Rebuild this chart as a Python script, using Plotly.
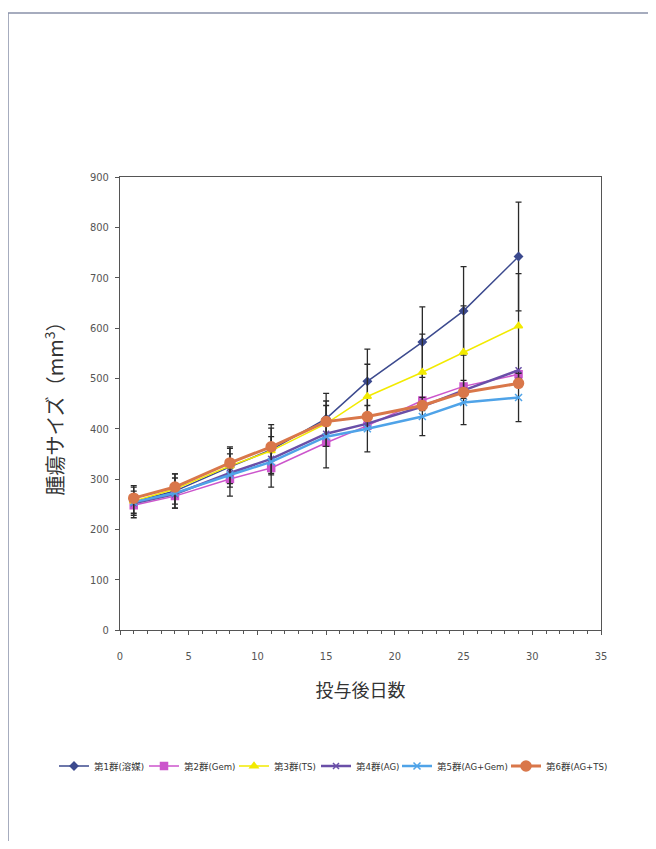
import plotly.graph_objects as go

days = [1, 4, 8, 11, 15, 18, 22, 25, 29]
names = ["第1群(溶媒)", "第2群(Gem)", "第3群(TS)", "第4群(AG)", "第5群(AG+Gem)", "第6群(AG+TS)"]
g1 = [255, 276, 324, 358, 420, 494, 572, 634, 742]
g2 = [248, 266, 300, 322, 372, 406, 456, 484, 508]
g3 = [256, 280, 326, 356, 410, 464, 512, 552, 604]
g4 = [252, 270, 312, 340, 390, 410, 444, 476, 516]
g5 = [254, 272, 308, 334, 384, 400, 424, 452, 462]
g6 = [262, 284, 332, 364, 414, 424, 446, 472, 490]
e1 = [32, 34, 40, 50, 50, 64, 70, 88, 108]
e3 = [28, 30, 35, 45, 45, 64, 76, 92, 104]
e5 = [22, 30, 42, 50, 62, 46, 38, 44, 48]

series = [g1, g2, g3, g4, g5, g6]
errors = [e1, None, e3, None, e5, None]
colors = ["#3C4A8E", "#CC55CC", "#F2EA00", "#6A4FA8", "#4FA3E8", "#D9774A"]
symbols = ["diamond", "square", "triangle-up", "x-thin", "x-thin", "circle"]
msizes = [6, 7, 7, 6, 7, 10]
lwidths = [1.5, 1.5, 1.5, 2.5, 2.5, 3]

# figure sits inside the page body at an 8px offset
W, H = 640, 833
OFF = 8
L, R, T, B = 120 - OFF, 601 - OFF, 177 - OFF, 630 - OFF
pw, ph = R - L, B - T

def px(x):
    return (x - OFF - L) / pw

def py(y):
    return (B - (y - OFF)) / ph

legend_x = [54, 144, 234, 316, 397, 506]
legend_ids = ["legend", "legend2", "legend3", "legend4", "legend5", "legend6"]

fig = go.Figure()
for name, ys, err, c, s, ms, lw, lid in zip(names, series, errors, colors, symbols, msizes, lwidths, legend_ids):
    ebar = None
    if err is not None:
        ebar = dict(type="data", array=err, visible=True, color="#2a2a2a", thickness=1.3, width=3)
    fig.add_trace(go.Scatter(
        x=days, y=ys, name=name, mode="lines+markers", legend=lid,
        line=dict(color=c, width=lw),
        marker=dict(symbol=s, size=ms, color=c, line=dict(color=c, width=1.5)),
        error_y=ebar,
    ))

legfont = dict(family="DejaVu Sans Condensed, Noto Sans CJK JP", size=9.5, color="#333333")
legends = {}
for lid, lx in zip(legend_ids, legend_x):
    legends[lid] = dict(x=px(lx), xanchor="left", y=py(766), yanchor="middle",
                        font=legfont, itemwidth=30, bgcolor="rgba(0,0,0,0)")

tickfont = dict(family="DejaVu Sans Condensed, sans-serif", size=11, color="#555555")
fig.update_layout(
    width=W, height=H,
    margin=dict(l=L, r=W - R, t=T, b=H - B),
    paper_bgcolor="white", plot_bgcolor="white",
    showlegend=True,
    **legends,
    xaxis=dict(range=[0, 35], dtick=5, tick0=0, showgrid=False, zeroline=False,
               showline=True, linecolor="#555555", linewidth=1, mirror=True,
               ticks="outside", ticklen=4, tickcolor="#555555", tickfont=tickfont,
               ticklabelstandoff=12,
               minor=dict(dtick=1, ticks="outside", ticklen=3, tickcolor="#555555"),
               title=dict(text="投与後日数", font=dict(family="Noto Sans CJK JP", size=18, color="#333333"), standoff=22)),
    yaxis=dict(range=[0, 900], dtick=100, showgrid=False, zeroline=False,
               showline=True, linecolor="#555555", linewidth=1, mirror=True,
               ticks="outside", ticklen=4, tickcolor="#555555", tickfont=tickfont,
               ticklabelstandoff=4,
               title=dict(text="腫瘍サイズ（mm<sup>3</sup>）", font=dict(family="Noto Sans CJK JP", size=20, color="#333333"), standoff=20)),
)

# page frame of the scanned document
fig.add_shape(type="line", xref="paper", yref="paper", x0=px(8), x1=px(656), y0=py(13), y1=py(13),
              line=dict(color="#8890A8", width=1.5))
fig.add_shape(type="line", xref="paper", yref="paper", x0=px(8), x1=px(8), y0=py(13), y1=py(849),
              line=dict(color="#8890A8", width=1.5))

fig.write_html("out.html")
